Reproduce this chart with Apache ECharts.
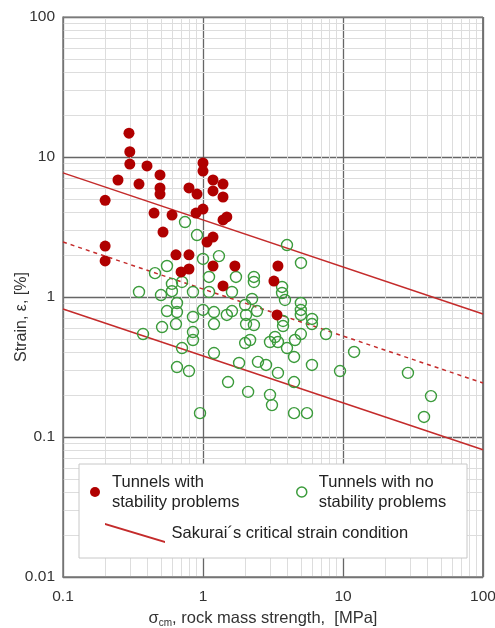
<!DOCTYPE html>
<html>
<head>
<meta charset="utf-8">
<script src="https://cdn.jsdelivr.net/npm/echarts@6/dist/echarts.min.js"></script>
<style>html,body{margin:0;padding:0;background:#fff}#c{width:495px;height:628px}</style>
</head>
<body>
<div id="c"></div>
<script>
// Tunnels with stability problems: [rock mass strength MPa, strain %]
const unstable = [
  [0.20,4.9],[0.20,2.31],[0.20,1.81],[0.247,6.85],[0.296,14.8],[0.30,10.9],[0.30,8.9],
  [0.349,6.41],[0.398,8.63],[0.447,3.98],[0.493,7.44],[0.493,6.01],[0.493,5.44],[0.518,2.91],
  [0.601,3.85],[0.641,2.0],[0.697,1.51],[0.794,6.01],[0.794,2.0],[0.794,1.585],[0.891,3.98],
  [0.906,5.44],[1.0,9.06],[1.0,7.94],[1.0,4.25],[1.068,2.47],[1.179,6.85],[1.179,5.72],
  [1.179,2.68],[1.179,1.665],[1.39,6.41],[1.39,5.18],[1.39,3.55],[1.48,3.73],[1.39,1.20],
  [1.69,1.665],[3.43,1.665],[3.21,1.30],[3.38,0.744]
];
// Tunnels with no stability problems
const stable = [
  [0.349,1.086],[0.373,0.544],[0.454,1.48],[0.501,1.033],[0.51,0.61],[0.553,1.665],[0.553,0.794],
  [0.60,1.24],[0.60,1.10],[0.652,0.906],[0.652,0.781],[0.641,0.641],[0.708,1.28],[0.708,0.432],
  [0.652,0.316],[0.794,0.296],[0.744,3.43],[0.848,1.086],[0.848,0.72],[0.848,0.562],[0.848,0.493],
  [0.906,2.77],[0.952,0.148],[1.0,1.87],[1.0,0.808],[1.104,1.39],[1.104,1.086],[1.198,0.781],
  [1.198,0.641],[1.198,0.398],[1.30,1.96],[1.48,0.744],[1.61,0.794],[1.51,0.247],[1.61,1.086],
  [1.72,1.39],[1.81,0.338],[2.0,0.877],[2.03,0.744],[2.03,0.641],[2.0,0.469],[2.17,0.493],
  [2.10,0.21],[2.24,0.968],[2.31,1.39],[2.31,1.28],[2.31,0.631],[2.43,0.794],[2.47,0.344],
  [2.82,0.327],[3.01,0.477],[3.27,0.518],[3.43,0.477],[3.01,0.20],[3.11,0.169],[3.43,0.287],
  [3.67,1.18],[3.67,1.068],[3.85,0.952],[3.73,0.674],[3.73,0.62],[3.98,2.35],[3.98,0.432],
  [4.47,0.373],[4.47,0.247],[4.54,0.493],[4.47,0.148],[5.53,0.148],[5.01,1.75],[5.0,0.906],
  [5.0,0.808],[5.0,0.744],[5.0,0.544],[6.01,0.697],[6.0,0.641],[6.0,0.327],[7.56,0.544],
  [9.52,0.296],[12.0,0.405],[29.1,0.287],[42.5,0.196],[37.9,0.139]
];
// Sakurai's critical strain lines (endpoints at sigma = 0.1 and 100)
const lineX = [0.1, 100];
const upperY = [7.7, 0.756];
const middleY = [2.47, 0.243];
const lowerY = [0.82, 0.081];
const xTicks = [0.1, 1, 10, 100];
const yTicks = [0.01, 0.1, 1, 10, 100];

const nameUnstable = 'Tunnels with\nstability problems';
const nameStable = 'Tunnels with no\nstability problems';
const nameSakurai = 'Sakurai\u00b4s critical strain condition';

function minorVals(lo, hi) {
  const v = [];
  for (let d = lo; d < hi; d *= 10) for (let k = 2; k <= 9; k++) v.push(+(d * k).toPrecision(3));
  return v;
}
const minorLine = {color:'#dddddd', width:1, type:'solid'};
const gridMarks = minorVals(0.1,100).map(v => ({xAxis:v, lineStyle:minorLine}))
  .concat(minorVals(0.01,100).map(v => ({yAxis:v, lineStyle:minorLine})));

const zip = ys => lineX.map((x,i) => [x, ys[i]]);
const font = "'Liberation Sans', Arial, sans-serif";
const redLine = '#c42b2b';
const fmt = ticks => v => { const m = ticks.find(t => Math.abs(Math.log10(t)-Math.log10(v))<1e-6); return m===undefined?'':String(m); };
const legendText = {fontSize:16.5, color:'#222', lineHeight:20, fontFamily:font, padding:[0,0,0,7]};

const chart = echarts.init(document.getElementById('c'), null, {renderer:'canvas'});
chart.setOption({
  animation:false,
  textStyle:{fontFamily:font},
  grid:{left:63, right:12, top:17, bottom:51, containLabel:false, outerBoundsMode:'none'},
  xAxis:{
    type:'log', logBase:10, min:0.1, max:100,
    axisLine:{show:true, lineStyle:{color:'#7a7a7a', width:1.5}},
    axisTick:{show:false},
    splitLine:{show:true, lineStyle:{color:'#666', width:1.3}},
    axisLabel:{color:'#333', fontSize:15.5, fontFamily:font, margin:12, formatter:fmt(xTicks)},
    name:'{a|\u03c3}{b|cm}{a|, rock mass strength,  [MPa]}',
    nameLocation:'middle', nameGap:32, nameMoveOverlap:false,
    nameTextStyle:{padding:[0,20,0,0], rich:{a:{fontSize:16.5,color:'#333',fontFamily:font}, b:{fontSize:10,color:'#333',fontFamily:font, verticalAlign:'bottom', padding:[9,0,0,0]}}}
  },
  yAxis:{
    type:'log', logBase:10, min:0.01, max:100,
    axisLine:{show:true, lineStyle:{color:'#7a7a7a', width:1.5}},
    axisTick:{show:false},
    splitLine:{show:true, lineStyle:{color:'#666', width:1.3}},
    axisLabel:{color:'#333', fontSize:15.5, fontFamily:font, margin:8, formatter:fmt(yTicks)},
    name:'Strain, \u03b5, [%]', nameLocation:'middle', nameGap:33, nameMoveOverlap:false,
    nameTextStyle:{fontSize:16, color:'#333', fontFamily:font, padding:[0,40,0,0]}
  },
  graphic:[{
    type:'rect', z:50, shape:{x:79, y:464, width:388, height:94},
    style:{fill:'#fff', stroke:'#c8c8c8', lineWidth:1}
  }, {
    type:'rect', z:1, silent:true, shape:{x:482, y:17, width:1.5, height:560}, style:{fill:'#7a7a7a'}
  }, {
    type:'rect', z:1, silent:true, shape:{x:63, y:16.5, width:420, height:1.5}, style:{fill:'#7a7a7a'}
  }],
  legend:[{
    z:60, left:90, top:472, padding:0, selectedMode:false,
    itemWidth:10, itemHeight:10,
    textStyle:legendText,
    data:[{name:nameUnstable, icon:'circle', itemStyle:{color:'#b00000', opacity:1}}]
  }, {
    z:60, left:296, top:472, padding:0, selectedMode:false,
    itemWidth:10, itemHeight:10,
    textStyle:legendText,
    data:[{name:nameStable, icon:'circle', itemStyle:{color:'#fff', borderColor:'#3b9b3b', borderWidth:1.5, opacity:1}}]
  }, {
    z:60, left:105, top:523, padding:0, selectedMode:false,
    itemWidth:63, itemHeight:20,
    textStyle:{fontSize:16.5, color:'#222', fontFamily:font},
    data:[{name:nameSakurai, icon:'path://M0,0 L63,19 L63,21 L0,2 Z', itemStyle:{color:redLine, borderWidth:0}}]
  }],
  series:[{
    type:'line', name:'grid', data:[], silent:true, z:0,
    markLine:{z:0, silent:true, symbol:'none', label:{show:false}, animation:false, data:gridMarks}
  }, {
    type:'line', name:nameSakurai, data:zip(upperY), symbol:'none', z:2,
    lineStyle:{color:redLine, width:1.5}, itemStyle:{color:redLine}
  }, {
    type:'line', name:nameSakurai, data:zip(lowerY), symbol:'none', z:2,
    lineStyle:{color:redLine, width:1.5}, itemStyle:{color:redLine}
  }, {
    type:'line', name:'dashed', data:zip(middleY), symbol:'none', z:2,
    lineStyle:{color:redLine, width:1.5, type:[4,4]}
  }, {
    type:'scatter', name:nameStable, data:stable, symbol:'circle', symbolSize:11, z:3,
    itemStyle:{color:'rgba(255,255,255,0)', borderColor:'#3b9b3b', borderWidth:1.4, opacity:1}
  }, {
    type:'scatter', name:nameUnstable, data:unstable, symbol:'circle', symbolSize:11, z:4,
    itemStyle:{color:'#b00000', opacity:1}
  }]
});
</script>
</body>
</html>
